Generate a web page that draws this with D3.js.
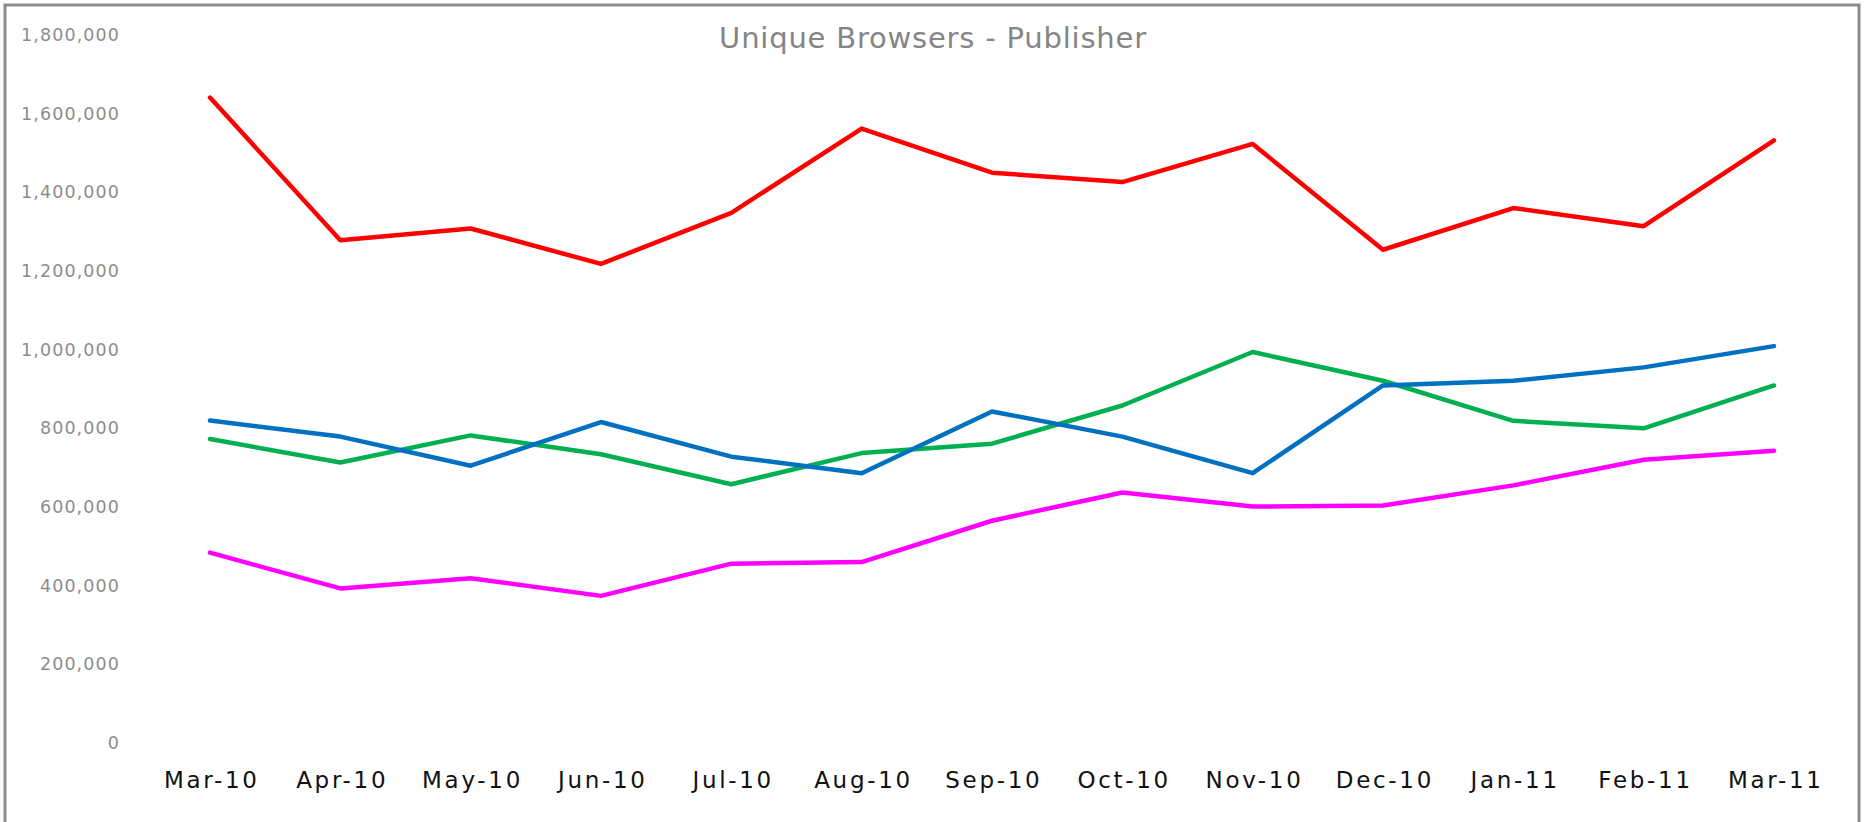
<!DOCTYPE html>
<html><head><meta charset="utf-8">
<script src="https://cdn.jsdelivr.net/npm/d3@7"></script>
<style>
html,body{margin:0;padding:0;background:#fff;}
svg{display:block;}
</style></head>
<body>
<svg id="chart" width="1865" height="822"></svg>
<script>
const categories = ["Mar-10","Apr-10","May-10","Jun-10","Jul-10","Aug-10","Sep-10","Oct-10","Nov-10","Dec-10","Jan-11","Feb-11","Mar-11"];
const redSeries     = [1641000,1278000,1308000,1218000,1348000,1562000,1450000,1426000,1523000,1254000,1360000,1314000,1532000];
const greenSeries   = [773000,713000,782000,734000,658000,737000,761000,858000,994000,921000,819000,800000,909000];
const blueSeries    = [820000,779000,705000,816000,728000,686000,843000,779000,686000,909000,921000,955000,1009000];
const magentaSeries = [484000,393000,419000,374000,456000,460000,565000,637000,601000,604000,655000,720000,743000];
const yTicks = [0,200000,400000,600000,800000,1000000,1200000,1400000,1600000,1800000];
const title = "Unique Browsers - Publisher";

const series = [
  {name:"magenta", values: magentaSeries, color:"#FF00FF"},
  {name:"green", values: greenSeries, color:"#00B050"},
  {name:"blue", values: blueSeries, color:"#0070C0"},
  {name:"red", values: redSeries, color:"#FF0000"}
];

const svg = d3.select("#chart");

// outer border
svg.append("rect").attr("x",5).attr("y",5).attr("width",1854).attr("height",830)
  .attr("fill","#fff").attr("stroke","#8c8c8c").attr("stroke-width",3);

const x = d3.scalePoint().domain(categories).range([210,1774]);
const y = d3.scaleLinear().domain([0,1800000]).range([743,35]);

// title
svg.append("text").attr("x",933).attr("y",38).attr("text-anchor","middle")
  .attr("dominant-baseline","central")
  .attr("font-family","'Century Gothic','DejaVu Sans',sans-serif")
  .attr("font-size",29).attr("fill","#858585").attr("letter-spacing",0.8)
  .text(title);

// y axis
const yAxis = d3.axisLeft(y).tickValues(yTicks).tickSize(0).tickPadding(0)
  .tickFormat(d3.format(","));
const gy = svg.append("g").attr("transform","translate(119,0)").call(yAxis);
gy.select(".domain").remove();
gy.selectAll("text").attr("font-family","'Century Gothic','DejaVu Sans',sans-serif")
  .attr("font-size",17.5).attr("fill","#8c8c8c").attr("letter-spacing",1.1).attr("dx",1);

// x axis
const xAxis = d3.axisBottom(x).tickSize(0).tickPadding(0);
const gx = svg.append("g").attr("transform","translate(0,780)").call(xAxis);
gx.select(".domain").remove();
gx.selectAll("text").attr("font-family","'Century Gothic','DejaVu Sans',sans-serif")
  .attr("font-size",23).attr("fill","#111").attr("letter-spacing",2.7)
  .attr("dy",null).attr("dominant-baseline","central").attr("dx",1.35);

const line = d3.line().x((d,i)=>x(categories[i])).y(d=>y(d));
svg.append("g").selectAll("path").data(series).join("path")
  .attr("d",d=>line(d.values)).attr("fill","none")
  .attr("stroke",d=>d.color).attr("stroke-width",4.5)
  .attr("stroke-linejoin","round").attr("stroke-linecap","round");
</script>
</body></html>
